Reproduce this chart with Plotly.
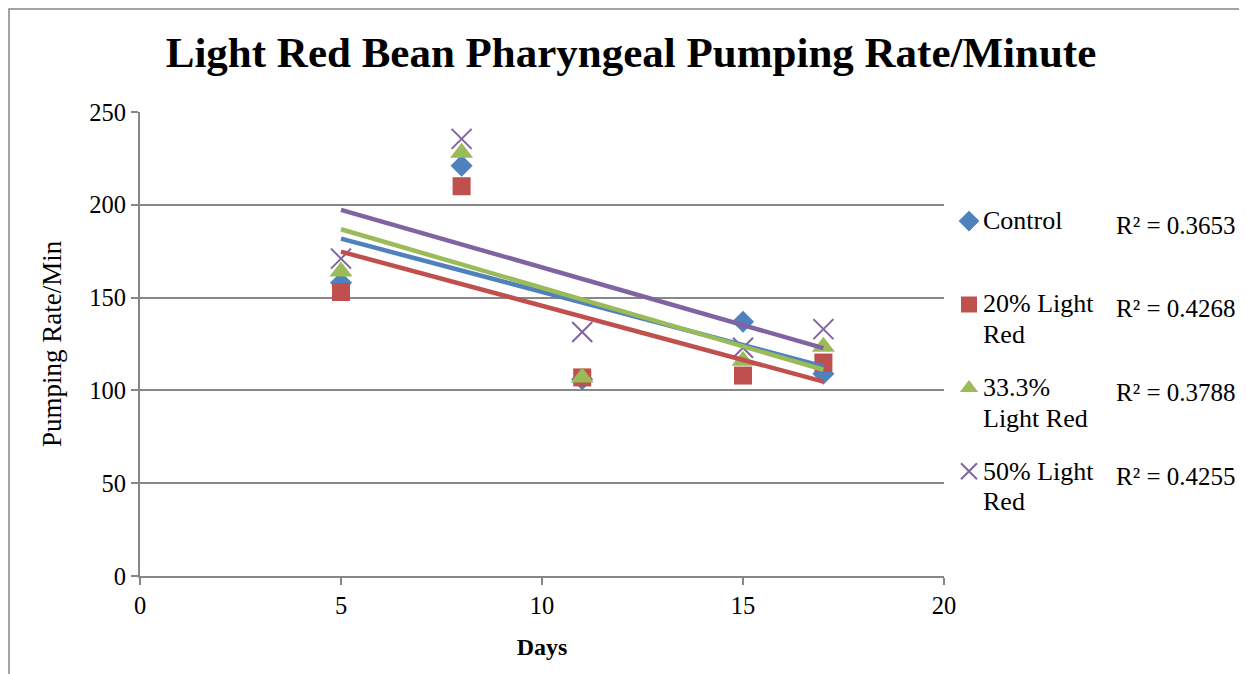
import numpy as np
import plotly.graph_objects as go

days = [5, 8, 11, 15, 17]
series_names = ["Control", "20% Light<br>Red", "33.3%<br>Light Red", "50% Light<br>Red"]
control = [158, 221, 106, 137, 109]
light20 = [153, 210, 107, 108, 115]
light33 = [164, 228, 107, 116, 123.5]
light50 = [171, 235.5, 131.5, 123, 133]
r2_labels = ["R² = 0.3653", "R² = 0.4268", "R² = 0.3788", "R² = 0.4255"]

colors = ["#4F81BD", "#C0504D", "#9BBB59", "#8064A2"]
symbols = ["diamond", "square", "triangle-up", "x-thin-open"]
sizes = [17, 18, 20, 20]
values = [control, light20, light33, light50]

FONT = "Times New Roman"
GRID = "#878787"

# page has an 8px body margin; all screen positions below are converted
OFF = 8
PL, PR, PT, PB = 140, 944, 112, 576  # plot area in screen pixels
W, H = 1247 - OFF, 674 - OFF


def px(xs):
    return (xs - PL) / (PR - PL)


def py(ys):
    return (PB - ys) / (PB - PT)


fig = go.Figure()
for i, (name, vals) in enumerate(zip(series_names, values)):
    marker = dict(symbol=symbols[i], size=sizes[i], color=colors[i])
    if symbols[i] == "x-thin-open":
        marker["line"] = dict(color=colors[i], width=2)
    else:
        marker["line"] = dict(width=0)
    # legend shows only the symbol; the label text is drawn as serif annotations
    fig.add_trace(go.Scatter(x=days, y=vals, mode="markers", name="\u00a0<br>\u00a0",
                             marker=marker, legendgroup=f"g{i}", cliponaxis=False,
                             hovertext=name.replace("<br>", " "), hoverinfo="x+y+text"))

for i, vals in enumerate(values):
    slope, intercept = np.polyfit(days, vals, 1)
    xs = [min(days), max(days)]
    ys = [slope * x + intercept for x in xs]
    fig.add_trace(go.Scatter(x=xs, y=ys, mode="lines", showlegend=False,
                             line=dict(color=colors[i], width=4.5), hoverinfo="skip"))

# legend labels (one annotation per line)
first_line_y = [220, 303, 387, 471]
for name, y0 in zip(series_names, first_line_y):
    for k, line in enumerate(name.split("<br>")):
        fig.add_annotation(text=line, xref="paper", yref="paper",
                           x=px(981), y=py(y0 + 31 * k),
                           xanchor="left", yanchor="middle", showarrow=False,
                           font=dict(family=FONT, size=26, color="black"))

# R² labels next to legend entries
r2_y = [225, 308, 392, 476]
for lab, yy in zip(r2_labels, r2_y):
    fig.add_annotation(text=lab, xref="paper", yref="paper",
                       x=px(1114), y=py(yy),
                       xanchor="left", yanchor="middle", showarrow=False,
                       font=dict(family=FONT, size=25, color="black"))

fig.update_layout(
    width=W, height=H,
    margin=dict(l=PL - OFF, r=1247 - PR, t=PT - OFF, b=674 - PB),
    paper_bgcolor="white", plot_bgcolor="white",
    font=dict(family=FONT, size=24, color="black"),
    title=dict(text="<b>Light Red Bean Pharyngeal Pumping Rate/Minute</b>",
               font=dict(family=FONT, size=43, color="black"),
               xref="paper", x=px(631), xanchor="center",
               yref="container", y=1 - (52 - OFF) / H, yanchor="middle"),
    showlegend=True,
    legend=dict(x=px(949), y=py(199), xanchor="left", yanchor="top",
                traceorder="grouped", tracegroupgap=18, valign="top",
                font=dict(family=FONT, size=24, color="black"),
                bgcolor="rgba(0,0,0,0)", itemwidth=30),
    xaxis=dict(range=[0, 20], tickvals=[0, 5, 10, 15, 20], showgrid=False,
               showline=True, linecolor=GRID, linewidth=2, zeroline=False,
               ticks="outside", ticklen=7, tickcolor=GRID, tickwidth=2,
               tickfont=dict(family=FONT, size=24.5),
               title=dict(text="<b>Days</b>", font=dict(family=FONT, size=24), standoff=20)),
    yaxis=dict(range=[0, 250], tickvals=[0, 50, 100, 150, 200, 250], showgrid=True,
               gridcolor=GRID, gridwidth=2, showline=True, linecolor=GRID, linewidth=2,
               zeroline=False, ticks="outside", ticklen=7, tickcolor=GRID, tickwidth=2,
               tickfont=dict(family=FONT, size=24.5),
               title=dict(text="Pumping Rate/Min", font=dict(family=FONT, size=27), standoff=20)),
)

# outer chart border
fig.add_shape(type="rect", xref="paper", yref="paper",
              x0=px(9), x1=px(1244), y0=py(720), y1=py(9),
              line=dict(color=GRID, width=1.5), layer="below")

fig.write_html("out.html")
